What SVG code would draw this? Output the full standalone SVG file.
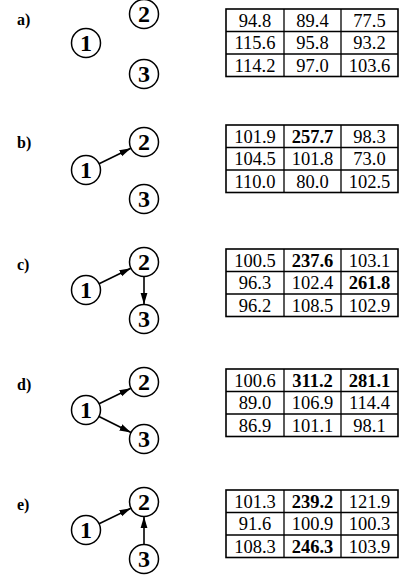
<svg xmlns="http://www.w3.org/2000/svg" width="404" height="579" viewBox="0 0 404 579">
<style>
  .lbl { font-family: "Liberation Serif", "Times New Roman", serif; font-weight: bold; font-size: 16px; fill: #000; }
  .node circle { fill: #fff; stroke: #000; stroke-width: 1.5; }
  .node text { font-family: "Liberation Serif", "Times New Roman", serif; font-weight: bold; font-size: 24px; text-anchor: middle; fill: #000; }
  .conn line { stroke: #000; stroke-width: 1.6; fill: none; marker-end: url(#ah); }
  .grid rect { fill: none; stroke: #000; stroke-width: 1.6; }
  .grid line { stroke: #000; stroke-width: 1.3; }
  .tbl text { font-family: "Liberation Serif", "Times New Roman", serif; font-size: 18.5px; text-anchor: middle; fill: #000; }
  .tbl text.b { font-weight: bold; }
</style>
<defs>
  <marker id="ah" markerUnits="userSpaceOnUse" markerWidth="12" markerHeight="8" refX="11.5" refY="4" orient="auto">
    <path d="M0,0.6 L11.5,4 L0,7.4 z" fill="#000"/>
  </marker>
  <g id="grid" class="grid">
    <rect x="226" y="0" width="172" height="67.5"/>
    <line x1="226" y1="22.5" x2="398" y2="22.5"/>
    <line x1="226" y1="45" x2="398" y2="45"/>
    <line x1="284" y1="0" x2="284" y2="67.5"/>
    <line x1="341" y1="0" x2="341" y2="67.5"/>
  </g>
</defs>

<!-- section labels -->
<text class="lbl" x="17" y="25">a)</text>
<text class="lbl" x="17" y="148">b)</text>
<text class="lbl" x="17" y="270">c)</text>
<text class="lbl" x="17" y="390">d)</text>
<text class="lbl" x="17" y="510">e)</text>

<!-- connectors -->
<g id="connectors" class="conn">
  <line x1="99.1" y1="163.7" x2="130.9" y2="148.3"/>
  <line x1="99.1" y1="283.7" x2="130.9" y2="268.3"/>
  <line x1="144" y1="276.5" x2="144" y2="304.5"/>
  <line x1="99.1" y1="403.7" x2="130.9" y2="388.3"/>
  <line x1="99" y1="416.5" x2="131" y2="432.5"/>
  <line x1="99.1" y1="523.7" x2="130.9" y2="508.3"/>
  <line x1="144" y1="544.5" x2="144" y2="516.5"/>
</g>

<!-- a -->
<g id="a1" class="node"><circle cx="86" cy="43" r="14.5"/><text x="86" y="51">1</text></g>
<g id="a2" class="node"><circle cx="144" cy="14" r="14.5"/><text x="144" y="22">2</text></g>
<g id="a3" class="node"><circle cx="144" cy="74" r="14.5"/><text x="144" y="82">3</text></g>
<!-- b -->
<g id="b1" class="node"><circle cx="86" cy="170" r="14.5"/><text x="86" y="178">1</text></g>
<g id="b2" class="node"><circle cx="144" cy="142" r="14.5"/><text x="144" y="150">2</text></g>
<g id="b3" class="node"><circle cx="144" cy="199" r="14.5"/><text x="144" y="207">3</text></g>
<!-- c -->
<g id="c1" class="node"><circle cx="86" cy="290" r="14.5"/><text x="86" y="298">1</text></g>
<g id="c2" class="node"><circle cx="144" cy="262" r="14.5"/><text x="144" y="270">2</text></g>
<g id="c3" class="node"><circle cx="144" cy="319" r="14.5"/><text x="144" y="327">3</text></g>
<!-- d -->
<g id="d1" class="node"><circle cx="86" cy="410" r="14.5"/><text x="86" y="418">1</text></g>
<g id="d2" class="node"><circle cx="144" cy="382" r="14.5"/><text x="144" y="390">2</text></g>
<g id="d3" class="node"><circle cx="144" cy="439" r="14.5"/><text x="144" y="447">3</text></g>
<!-- e -->
<g id="e1" class="node"><circle cx="86" cy="530" r="14.5"/><text x="86" y="538">1</text></g>
<g id="e2" class="node"><circle cx="144" cy="502" r="14.5"/><text x="144" y="510">2</text></g>
<g id="e3" class="node"><circle cx="144" cy="559" r="14.5"/><text x="144" y="567">3</text></g>

<!-- tables -->
<g id="tableA" class="tbl" transform="translate(0,9)">
  <use href="#grid"/>
  <text x="255" y="17.5">94.8</text><text x="312.5" y="17.5">89.4</text><text x="369.5" y="17.5">77.5</text>
  <text x="255" y="40">115.6</text><text x="312.5" y="40">95.8</text><text x="369.5" y="40">93.2</text>
  <text x="255" y="62.5">114.2</text><text x="312.5" y="62.5">97.0</text><text x="369.5" y="62.5">103.6</text>
</g>
<g id="tableB" class="tbl" transform="translate(0,125)">
  <use href="#grid"/>
  <text x="255" y="17.5">101.9</text><text class="b" x="312.5" y="17.5">257.7</text><text x="369.5" y="17.5">98.3</text>
  <text x="255" y="40">104.5</text><text x="312.5" y="40">101.8</text><text x="369.5" y="40">73.0</text>
  <text x="255" y="62.5">110.0</text><text x="312.5" y="62.5">80.0</text><text x="369.5" y="62.5">102.5</text>
</g>
<g id="tableC" class="tbl" transform="translate(0,249)">
  <use href="#grid"/>
  <text x="255" y="17.5">100.5</text><text class="b" x="312.5" y="17.5">237.6</text><text x="369.5" y="17.5">103.1</text>
  <text x="255" y="40">96.3</text><text x="312.5" y="40">102.4</text><text class="b" x="369.5" y="40">261.8</text>
  <text x="255" y="62.5">96.2</text><text x="312.5" y="62.5">108.5</text><text x="369.5" y="62.5">102.9</text>
</g>
<g id="tableD" class="tbl" transform="translate(0,369)">
  <use href="#grid"/>
  <text x="255" y="17.5">100.6</text><text class="b" x="312.5" y="17.5">311.2</text><text class="b" x="369.5" y="17.5">281.1</text>
  <text x="255" y="40">89.0</text><text x="312.5" y="40">106.9</text><text x="369.5" y="40">114.4</text>
  <text x="255" y="62.5">86.9</text><text x="312.5" y="62.5">101.1</text><text x="369.5" y="62.5">98.1</text>
</g>
<g id="tableE" class="tbl" transform="translate(0,490)">
  <use href="#grid"/>
  <text x="255" y="17.5">101.3</text><text class="b" x="312.5" y="17.5">239.2</text><text x="369.5" y="17.5">121.9</text>
  <text x="255" y="40">91.6</text><text x="312.5" y="40">100.9</text><text x="369.5" y="40">100.3</text>
  <text x="255" y="62.5">108.3</text><text class="b" x="312.5" y="62.5">246.3</text><text x="369.5" y="62.5">103.9</text>
</g>
</svg>
